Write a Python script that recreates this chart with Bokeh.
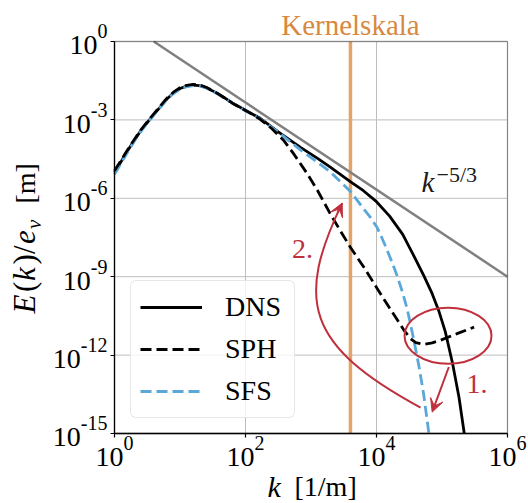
from math import pi
import numpy as np
from bokeh.plotting import figure
from bokeh.models import (Range1d, FixedTicker, CustomJSTickFormatter, Label,
                          Arrow, VeeHead, Legend, LegendItem, BoxAnnotation)
from bokeh.embed import file_html
from bokeh.resources import INLINE

# ---------------- data (log10 values) ----------------
dns_log_k = [0.00, 0.10, 0.20, 0.30, 0.40, 0.50, 0.60, 0.70, 0.80, 0.90, 1.00, 1.10, 1.20,
             1.30, 1.40, 1.50, 1.60, 1.80, 2.00, 2.23, 2.50, 2.84, 3.10, 3.30, 3.60, 3.80,
             4.00, 4.20, 4.40, 4.57, 4.72, 4.85, 4.95, 5.05, 5.16, 5.26, 5.34]
dns_log_E = [-5.00, -4.60, -4.18, -3.79, -3.42, -3.10, -2.80, -2.50, -2.20, -1.97, -1.80,
             -1.71, -1.67, -1.69, -1.77, -1.89, -2.03, -2.35, -2.63, -2.95, -3.46, -4.05,
             -4.47, -4.82, -5.36, -5.71, -6.13, -6.68, -7.38, -8.20, -8.95, -9.65, -10.30,
             -11.10, -12.30, -13.62, -15.00]

sph_log_k = [0.00, 0.10, 0.20, 0.30, 0.40, 0.50, 0.60, 0.70, 0.80, 0.90, 1.00, 1.10, 1.20,
             1.30, 1.40, 1.50, 1.60, 1.80, 2.00, 2.10, 2.23, 2.40, 2.585, 2.75, 2.94, 3.10,
             3.30, 3.45, 3.60, 3.81, 4.01, 4.20, 4.42, 4.52, 4.60, 4.72, 4.85, 4.98, 5.23, 5.49]
sph_log_E = [-4.95, -4.55, -4.14, -3.76, -3.39, -3.07, -2.77, -2.47, -2.17, -1.94, -1.77,
             -1.68, -1.64, -1.66, -1.75, -1.88, -2.03, -2.36, -2.64, -2.78, -2.99, -3.33,
             -3.79, -4.35, -5.05, -5.70, -6.62, -7.25, -7.87, -8.65, -9.45, -10.20, -11.05,
             -11.37, -11.52, -11.59, -11.53, -11.43, -11.18, -10.93]

sfs_log_k = [0.00, 0.10, 0.20, 0.30, 0.40, 0.50, 0.60, 0.70, 0.80, 0.90, 1.00, 1.10, 1.20,
             1.30, 1.40, 1.50, 1.60, 1.80, 2.00, 2.23, 2.50, 2.84, 3.10, 3.30, 3.61, 3.81,
             3.91, 4.01, 4.08, 4.16, 4.24, 4.32, 4.40, 4.47, 4.55, 4.65, 4.72, 4.80]
sfs_log_E = [-5.08, -4.66, -4.23, -3.83, -3.45, -3.12, -2.82, -2.52, -2.22, -1.99, -1.82,
             -1.73, -1.69, -1.70, -1.78, -1.90, -2.04, -2.36, -2.65, -2.97, -3.47, -4.15,
             -4.62, -5.00, -5.76, -6.42, -6.74, -7.12, -7.50, -7.97, -8.47, -9.00, -9.62,
             -10.25, -11.18, -12.45, -13.50, -15.00]

# k^(-5/3) reference line (two end points)
ref_k = [3.98, 1.0e6]
ref_E = [1.0, 1.0e-9]

kernel_scale = 4000.0          # "Kernelskala"

x_axis_limits = (1.0, 1e6)
y_axis_limits = (1e-15, 1.0)
x_tick_values = [1.0, 1e2, 1e4, 1e6]
x_tick_exponents = ["0", "2", "4", "6"]
y_tick_values = [1.0, 1e-3, 1e-6, 1e-9, 1e-12, 1e-15]
y_tick_exponents = ["0", "-3", "-6", "-9", "-12", "-15"]

series_names = ["DNS", "SPH", "SFS"]

# ---------------- annotation anchors (data coords) ----------------
circle_center = (1.236e5, 5.5e-12)
arrow1_start = (1.271e5, 3.5e-13)
arrow1_end = (7.08e4, 6.6e-15)
curve_p0 = (4.70e4, 9.8e-15)
curve_c0 = (824.0, 2.37e-12)
curve_c1 = (580.0, 1.25e-10)
curve_p1 = (2993.0, 6.55e-7)
arrow2_from = (2541.0, 2.79e-7)
label1_pos = (2.366e5, 3.47e-14)
label2_pos = (512.9, 4.9e-9)
slope_label_pos = (4.864e4, 1.726e-6)

# ---------------- layout / styles ----------------
W, H = 528, 503
BOX_LEFT, BOX_RIGHT, BOX_TOP, BOX_BOTTOM = 114, 21, 41, 70   # margins around the axes box (px)
SERIF = "Liberation Serif"
RED = "#C0303C"
ORANGE_TEXT = "#D8893F"
ORANGE_LINE = "#E2A469"
BLUE = "#5AA8DA"
GRAY = "#808080"
GRID = "#bdbdbd"
DASH = "11 5"
MID = 0.34          # text drawn with "middle" baseline: shift so the baseline lands where wanted

# ranges extended so that the decade box sits where the reference has it
xdec = np.log10(x_axis_limits[1]) - np.log10(x_axis_limits[0])
ydec = np.log10(y_axis_limits[1]) - np.log10(y_axis_limits[0])
box_w, box_h = W - BOX_LEFT - BOX_RIGHT, H - BOX_TOP - BOX_BOTTOM
x_lo = np.log10(x_axis_limits[0]) - BOX_LEFT * xdec / box_w
x_hi = np.log10(x_axis_limits[1]) + BOX_RIGHT * xdec / box_w
y_lo = np.log10(y_axis_limits[0]) - BOX_BOTTOM * ydec / box_h
y_hi = np.log10(y_axis_limits[1]) + BOX_TOP * ydec / box_h

p = figure(width=W, height=H, x_axis_type="log", y_axis_type="log", title=None,
           x_range=Range1d(10 ** x_lo, 10 ** x_hi), y_range=Range1d(10 ** y_lo, 10 ** y_hi),
           output_backend="svg", toolbar_location=None, min_border=0)
p.background_fill_color = "white"
p.border_fill_color = "white"
p.outline_line_color = None
p.xgrid.visible = False
p.ygrid.visible = False

p.xaxis.ticker = FixedTicker(ticks=x_tick_values)
p.yaxis.ticker = FixedTicker(ticks=y_tick_values)
p.xaxis.fixed_location = y_axis_limits[0]
p.yaxis.fixed_location = x_axis_limits[0]
p.xaxis.bounds = x_axis_limits
p.yaxis.bounds = y_axis_limits
for ax in (p.xaxis[0], p.yaxis[0]):
    ax.formatter = CustomJSTickFormatter(code="return ''")
    ax.major_label_standoff = 0
    ax.major_tick_in = 0
    ax.major_tick_out = 4
    ax.minor_tick_line_color = None
    ax.axis_line_color = "black"
    ax.axis_line_width = 1.3
    ax.major_tick_line_width = 1.2

# grid lines at the tick values, inside the box
p.segment(x0=x_tick_values, y0=[y_axis_limits[0]] * len(x_tick_values),
          x1=x_tick_values, y1=[y_axis_limits[1]] * len(x_tick_values),
          line_color=GRID, line_width=1)
p.segment(x0=[x_axis_limits[0]] * len(y_tick_values), y0=y_tick_values,
          x1=[x_axis_limits[1]] * len(y_tick_values), y1=y_tick_values,
          line_color=GRID, line_width=1)

# kernel scale
p.segment(x0=[kernel_scale], y0=[y_axis_limits[0]], x1=[kernel_scale], y1=[y_axis_limits[1]],
          line_color=ORANGE_LINE, line_width=3.5)

p.line(ref_k, ref_E, line_color=GRAY, line_width=2.5)

r_dns = p.line(10 ** np.array(dns_log_k), 10 ** np.array(dns_log_E),
               line_color="black", line_width=2.8)
r_sfs = p.line(10 ** np.array(sfs_log_k), 10 ** np.array(sfs_log_E),
               line_color=BLUE, line_width=2.8, line_dash=DASH)
r_sph = p.line(10 ** np.array(sph_log_k), 10 ** np.array(sph_log_E),
               line_color="black", line_width=2.8, line_dash=DASH)

# box around the axes area
p.add_layout(BoxAnnotation(left=x_axis_limits[0], right=x_axis_limits[1],
                           bottom=y_axis_limits[0], top=y_axis_limits[1],
                           fill_color=None, line_color="black", line_width=1.3))

legend = Legend(items=[LegendItem(label=series_names[0], renderers=[r_dns]),
                       LegendItem(label=series_names[1], renderers=[r_sph]),
                       LegendItem(label=series_names[2], renderers=[r_sfs])],
                location=(130, 85), glyph_width=62, glyph_height=34, label_standoff=23,
                spacing=8, padding=9, margin=0, label_width=60,
                label_text_font=SERIF, label_text_font_size="28px",
                label_text_color="black",
                border_line_color="#cfcfcf", border_line_width=1,
                background_fill_color="white", background_fill_alpha=0.8)
if "border_radius" in Legend.properties():
    legend.border_radius = 6
p.add_layout(legend)

# annotations: circle, arrows, numbers
p.ellipse(x=[circle_center[0]], y=[circle_center[1]], width=87, height=56,
          width_units="screen", height_units="screen",
          fill_color=None, line_color=RED, line_width=2)
p.add_layout(Arrow(x_start=arrow1_start[0], y_start=arrow1_start[1],
                   x_end=arrow1_end[0], y_end=arrow1_end[1],
                   line_color=RED, line_width=2,
                   end=VeeHead(size=13, fill_color=RED, line_color=RED, line_width=1)))
p.bezier(x0=[curve_p0[0]], y0=[curve_p0[1]], x1=[curve_p1[0]], y1=[curve_p1[1]],
         cx0=[curve_c0[0]], cy0=[curve_c0[1]], cx1=[curve_c1[0]], cy1=[curve_c1[1]],
         line_color=RED, line_width=2)
p.add_layout(Arrow(x_start=arrow2_from[0], y_start=arrow2_from[1],
                   x_end=curve_p1[0], y_end=curve_p1[1],
                   line_color=RED, line_width=2,
                   end=VeeHead(size=13, fill_color=RED, line_color=RED, line_width=1)))


def label(x, y, text, size, dx=0.0, dy=0.0, color="black", style="normal", align="left",
          angle=0.0):
    """Text whose baseline sits dy px above (x, y) (or along the rotated direction)."""
    if angle:
        xo, yo = dx - MID * size, dy
    else:
        xo, yo = dx, dy + MID * size
    p.add_layout(Label(x=x, y=y, text=text, x_offset=xo, y_offset=yo, angle=angle,
                       text_font=SERIF, text_font_style=style, text_font_size=f"{size}px",
                       text_color=color, text_align=align, text_baseline="middle"))


label(*label1_pos, "1.", 28, color=RED)
label(*label2_pos, "2.", 28, color=RED)
label(*slope_label_pos, "k", 29, color="#1a1a1a", style="italic")
label(*slope_label_pos, "\u22125/3", 22, dx=15, dy=10, color="#1a1a1a")
label(kernel_scale, y_axis_limits[1], "Kernelskala", 29, dy=7, color=ORANGE_TEXT,
      align="center")

# ---------------- tick labels: "10" + raised exponent ----------------
CHAR_W = {"-": 0.333, "0": 0.5, "1": 0.5, "2": 0.5, "3": 0.5, "4": 0.5, "5": 0.5,
          "6": 0.5, "7": 0.5, "8": 0.5, "9": 0.5}
BASE_PX, EXP_PX = 28, 20


def exp_width(s):
    return sum(CHAR_W[c] for c in s) * EXP_PX


for tick, e in zip(x_tick_values, x_tick_exponents):
    left = -(BASE_PX + exp_width(e)) / 2          # whole "10^e" centred on the tick
    label(tick, y_axis_limits[0], "10", BASE_PX, dx=left, dy=-33.4)
    label(tick, y_axis_limits[0], e, EXP_PX, dx=left + BASE_PX, dy=-16.7)

for tick, e in zip(y_tick_values, y_tick_exponents):
    e_left = -7 - exp_width(e)                     # whole "10^e" right-aligned at the axis
    label(x_axis_limits[0], tick, "10", BASE_PX, dx=e_left - BASE_PX, dy=-13.4)
    label(x_axis_limits[0], tick, e, EXP_PX, dx=e_left, dy=3.3)

# ---------------- axis titles (mixed italic / upright pieces) ----------------
label(x_axis_limits[0], y_axis_limits[0], "k", 30, dx=153, dy=-63, style="italic")
label(x_axis_limits[0], y_axis_limits[0], "[1/m]", 28, dx=180, dy=-63)

ylabel_pieces = [("E", "italic", 31, 0.0, 0), ("(", "normal", 31, 21.5, 0),
                 ("k", "italic", 31, 32.5, 0), (")", "normal", 31, 49.0, 0),
                 ("/", "normal", 31, 59.5, 0), ("e", "italic", 31, 69.5, 0),
                 ("v", "italic", 21, 84.5, 6), ("[m]", "normal", 28, 110.0, 0)]
for txt, style, size, d, shift in ylabel_pieces:
    label(x_axis_limits[0], y_axis_limits[0], txt, size, dx=-79 + shift, dy=120 + d,
          style=style, angle=pi / 2)

open("out.html", "w").write(file_html(p, INLINE))
